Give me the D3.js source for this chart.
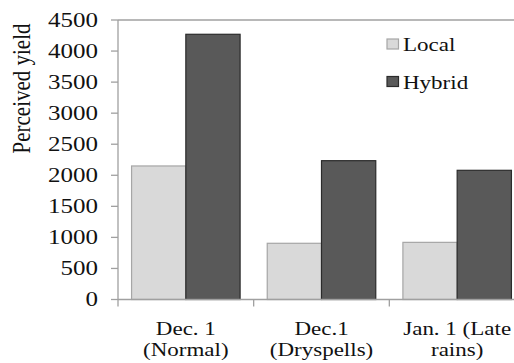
<!DOCTYPE html>
<html>
<head>
<meta charset="utf-8">
<script src="https://cdn.jsdelivr.net/npm/d3@7"></script>
<style>
  html, body { margin: 0; padding: 0; background: #fff; }
  svg { display: block; }
  text { font-family: "Liberation Serif", "Times New Roman", serif; fill: #111; }
</style>
</head>
<body>
<svg id="chart" width="514" height="363"></svg>
<script>
// Planting scenarios and perceived yield per variety
const categories = [["Dec. 1", "(Normal)"], ["Dec.1", "(Dryspells)"], ["Jan. 1 (Late", "rains)"]];
const seriesNames = ["Local", "Hybrid"];
const localValues = [2150, 905, 920];
const hybridValues = [4270, 2235, 2080];
const yTicks = [0, 500, 1000, 1500, 2000, 2500, 3000, 3500, 4000, 4500];

const fills = { Local: "#d9d9d9", Hybrid: "#595959" };
const strokes = { Local: "#a6a6a6", Hybrid: "#2b2b2b" };
const values = { Local: localValues, Hybrid: hybridValues };

const fontSize = 19.5;
const sx = 1.18; // horizontal text stretch

const svg = d3.select("#chart");
const plotLeft = 118, plotTop = 20, plotBottom = 299.5, plotRight = 525;

const x = d3.scaleBand().domain(d3.range(categories.length)).range([plotLeft, plotRight]).padding(0);
const xSub = d3.scaleBand().domain(seriesNames).range([0, x.bandwidth()]).paddingInner(0).paddingOuter(0.25);
const y = d3.scaleLinear().domain([0, 4500]).range([plotBottom, plotTop]);

// Bars
const groups = svg.append("g").selectAll("g")
  .data(d3.range(categories.length))
  .join("g")
  .attr("transform", i => `translate(${x(i)},0)`);

groups.selectAll("rect")
  .data(i => seriesNames.map(s => ({ s, v: values[s][i] })))
  .join("rect")
  .attr("x", d => xSub(d.s))
  .attr("y", d => y(d.v))
  .attr("width", xSub.bandwidth())
  .attr("height", d => y(0) - y(d.v))
  .attr("fill", d => fills[d.s])
  .attr("stroke", d => strokes[d.s])
  .attr("stroke-width", 1.2);

// Axis lines
const axisColor = "#a0a0a0";
svg.append("line").attr("x1", plotLeft).attr("x2", 514).attr("y1", plotTop).attr("y2", plotTop)
  .attr("stroke", axisColor).attr("stroke-width", 1.3);
svg.append("line").attr("x1", plotLeft).attr("x2", plotLeft).attr("y1", plotTop).attr("y2", plotBottom + 7)
  .attr("stroke", axisColor).attr("stroke-width", 1.3);
svg.append("line").attr("x1", plotLeft).attr("x2", 514).attr("y1", plotBottom).attr("y2", plotBottom)
  .attr("stroke", axisColor).attr("stroke-width", 1.3);

// Y ticks and labels
const yAxis = svg.append("g");
yAxis.selectAll("line").data(yTicks).join("line")
  .attr("x1", plotLeft - 7).attr("x2", plotLeft)
  .attr("y1", d => y(d)).attr("y2", d => y(d))
  .attr("stroke", axisColor).attr("stroke-width", 1.3);
yAxis.selectAll("text").data(yTicks).join("text")
  .attr("transform", d => `translate(98,${y(d) + 6.8}) scale(1.25,1)`)
  .attr("text-anchor", "end")
  .style("font-size", "20px")
  .text(d => d);

// Category boundary ticks
svg.append("g").selectAll("line").data(d3.range(1, categories.length)).join("line")
  .attr("x1", i => x(i)).attr("x2", i => x(i))
  .attr("y1", plotBottom).attr("y2", plotBottom + 7)
  .attr("stroke", axisColor).attr("stroke-width", 1.3);

// Category labels
const catLabels = svg.append("g").selectAll("g")
  .data(d3.range(categories.length))
  .join("g")
  .attr("transform", i => `translate(${x(i) + x.bandwidth() / 2},0)`);
catLabels.selectAll("text")
  .data(i => categories[i].map((t, k) => ({ t, k })))
  .join("text")
  .attr("transform", d => `translate(0,${335 + d.k * 21}) scale(${sx},1)`)
  .attr("text-anchor", "middle")
  .style("font-size", fontSize + "px")
  .text(d => d.t);

// Y axis title
svg.append("text")
  .attr("transform", `translate(30,88.5) scale(${sx},1) rotate(-90)`)
  .attr("text-anchor", "middle")
  .style("font-size", "21px")
  .text("Perceived yield");

// Legend
const legend = svg.append("g").selectAll("g")
  .data(seriesNames)
  .join("g")
  .attr("transform", (d, i) => `translate(387,${39 + i * 37.5})`);
legend.append("rect")
  .attr("width", 11.5).attr("height", 10)
  .attr("fill", d => fills[d]).attr("stroke", d => strokes[d]).attr("stroke-width", 1.2);
legend.append("text")
  .attr("transform", `translate(16,12) scale(${sx},1)`)
  .style("font-size", fontSize + "px")
  .text(d => d);
</script>
</body>
</html>
